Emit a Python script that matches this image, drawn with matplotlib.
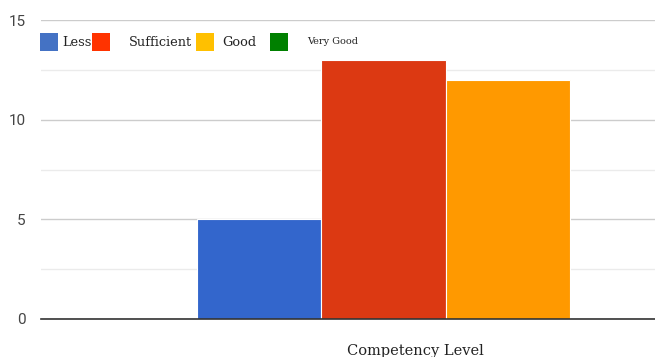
import matplotlib.pyplot as plt
from matplotlib.patches import Rectangle

levels = ["Less", "Sufficient", "Good", "Very Good"]
counts = [5, 13, 12, 0]
bar_colors = ["#3366CC", "#DC3912", "#FF9900", "#109618"]
legend_colors = ["#4472C4", "#FF3300", "#FFC000", "#008000"]
yticks = [0, 5, 10, 15]

fig = plt.figure(figsize=(6.55, 3.57), dpi=100)
ax = fig.add_axes([41 / 655, 1 - 319 / 357, 1 - 41 / 655, 299 / 357])

pos = list(range(len(levels)))
ax.bar(pos, counts, width=1.0, color=bar_colors, edgecolor="white", linewidth=0.8, zorder=3)
ax.set_xlim(-1.75, 3.18)
ax.set_ylim(0, 15)

ax.set_yticks(yticks)
ax.set_yticks([2.5, 7.5, 12.5], minor=True)
ax.grid(axis="y", which="major", color="#cccccc", linewidth=1.0, zorder=0)
ax.grid(axis="y", which="minor", color="#ebebeb", linewidth=1.0, zorder=0)
ax.tick_params(axis="y", which="both", length=0, pad=11, labelsize=11, labelcolor="#444444")
ax.tick_params(axis="x", length=0, labelbottom=False)
for s in ["top", "right", "left"]:
    ax.spines[s].set_visible(False)
ax.spines["bottom"].set_color("#333333")
ax.spines["bottom"].set_linewidth(1.2)
ax.spines["bottom"].set_zorder(4)
for t in ax.get_yticklabels():
    t.set_fontfamily("Roboto")

ax.set_xlabel("Competency Level", family="DejaVu Serif", fontsize=10.5, color="#222222")
ax.xaxis.set_label_coords((415 - 41) / 614, -0.085)

# hand-spaced legend along the top
boxes = [40, 92, 196, 270]
labels_x = [62, 129, 222, 307]
sizes = [9.3, 9.3, 9.3, 7]
for bx, lx, c, name, fs in zip(boxes, labels_x, legend_colors, levels, sizes):
    fig.patches.append(Rectangle((bx / 655, 1 - 51 / 357), 18 / 655, 18 / 357,
                                 transform=fig.transFigure, facecolor=c, edgecolor="none"))
    fig.text(lx / 655, 1 - 42 / 357, name, family="DejaVu Serif", fontsize=fs,
             color="#222222", va="center", ha="left")

fig.savefig("out.png", dpi=100)
